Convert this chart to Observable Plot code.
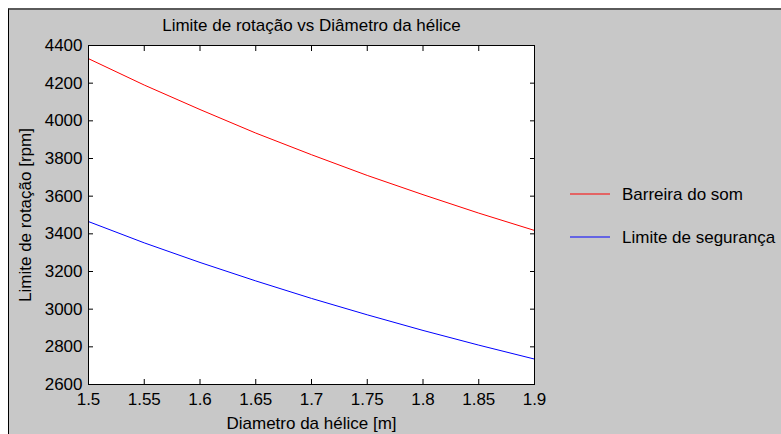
<!DOCTYPE html>
<html>
<head>
<meta charset="utf-8">
<script src="https://cdn.jsdelivr.net/npm/d3@7"></script>
<script src="https://cdn.jsdelivr.net/npm/@observablehq/plot@0.6"></script>
<style>
  html, body { margin: 0; padding: 0; background: #ffffff; }
  #wrap { position: relative; width: 781px; height: 434px; overflow: hidden; background: #ffffff; font-family: "Liberation Sans", Arial, sans-serif; }
  #bg { position: absolute; left: 8px; top: 8px; right: 0; bottom: 0; background: #c8c8c8; border-left: 1px solid #000; border-top: 2px solid #5a5a5a; }
  #chart { position: absolute; left: 0; top: 0; }
  #legend { position: absolute; left: 0; top: 0; }
</style>
</head>
<body>
<div id="wrap"><div id="bg"></div><div id="chart"></div><svg id="legend" width="781" height="434"></svg></div>
<script>
const titleText = "Limite de rotação vs Diâmetro da hélice";
const xLabel = "Diametro da hélice [m]";
const yLabel = "Limite de rotação [rpm]";
const seriesNames = ["Barreira do som", "Limite de segurança"];
const seriesColors = ["#ff0000", "#0000ff"];

const diametro = [1.5, 1.55, 1.6, 1.65, 1.7, 1.75, 1.8, 1.85, 1.9];
const barreira = [4330, 4190, 4060, 3935, 3820, 3710, 3608, 3510, 3418];
const seguranca = [3465, 3352, 3248, 3150, 3057, 2970, 2887, 2809, 2735];

const xTicks = [1.5, 1.55, 1.6, 1.65, 1.7, 1.75, 1.8, 1.85, 1.9];
const yTicks = [2600, 2800, 3000, 3200, 3400, 3600, 3800, 4000, 4200, 4400];

const data = diametro.flatMap((d, i) => [
  {d, rpm: barreira[i], s: seriesNames[0]},
  {d, rpm: seguranca[i], s: seriesNames[1]}
]);

const fmtX = d => String(+d.toFixed(2));
const FS = 17;

const plot = Plot.plot({
  width: 781,
  height: 434,
  marginLeft: 88,
  marginRight: 247,
  marginTop: 45,
  marginBottom: 50,
  style: {background: "transparent", fontFamily: "'Liberation Sans', Arial, sans-serif", fontSize: FS + "px", color: "#000"},
  x: {domain: [1.5, 1.9]},
  y: {domain: [2600, 4400]},
  color: {domain: seriesNames, range: seriesColors},
  marks: [
    Plot.frame({fill: "white", stroke: null}),
    Plot.line(data, {x: "d", y: "rpm", z: "s", stroke: "s", strokeWidth: 1, curve: "linear"}),
    Plot.frame({stroke: "#000", strokeWidth: 1}),
    Plot.axisX({anchor: "bottom", ticks: xTicks, tickSize: 0, tickPadding: 8, tickFormat: fmtX, label: null, fontSize: FS, fill: "#000"}),
    Plot.axisX({anchor: "bottom", ticks: xTicks, tickSize: -5, text: null, label: null, stroke: "#000"}),
    Plot.axisX({anchor: "top", ticks: xTicks, tickSize: -5, text: null, label: null, stroke: "#000"}),
    Plot.axisY({anchor: "left", ticks: yTicks, tickSize: 0, tickPadding: 6, label: null, tickFormat: d => String(d), fontSize: FS, fill: "#000"}),
    Plot.axisY({anchor: "left", ticks: yTicks, tickSize: -5, text: null, label: null, stroke: "#000"}),
    Plot.axisY({anchor: "right", ticks: yTicks, tickSize: -5, text: null, label: null, stroke: "#000"}),
    Plot.text([titleText], {text: d => d, frameAnchor: "top", lineAnchor: "middle", dy: -20, fontSize: FS, fill: "#000"}),
    Plot.text([xLabel], {text: d => d, frameAnchor: "bottom", lineAnchor: "middle", dy: 39, fontSize: FS, fill: "#000"}),
    Plot.text([yLabel], {text: d => d, frameAnchor: "left", textAnchor: "middle", lineAnchor: "middle", dx: -63, rotate: -90, fontSize: FS, fill: "#000"})
  ]
});
document.getElementById("chart").appendChild(plot);

const leg = d3.select("#legend");
const legY = [194, 237];
seriesNames.forEach((name, i) => {
  leg.append("line").attr("x1", 570).attr("x2", 610).attr("y1", legY[i]).attr("y2", legY[i])
    .attr("stroke", seriesColors[i]).attr("stroke-width", 1);
  leg.append("text").attr("x", 622).attr("y", legY[i]).attr("dy", "0.35em")
    .attr("font-family", "'Liberation Sans', Arial, sans-serif").attr("font-size", FS).attr("fill", "#000")
    .text(name);
});
</script>
</body>
</html>
